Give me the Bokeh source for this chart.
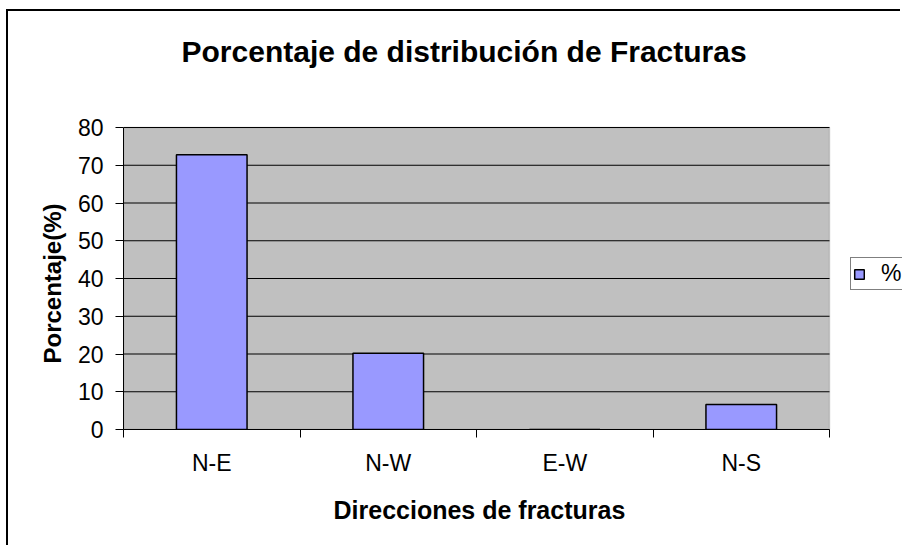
from bokeh.plotting import figure
from bokeh.models import (Range1d, FixedTicker, Legend, LegendItem, ColumnDataSource,
                          BoxAnnotation, Label, Title)
from bokeh.embed import file_html
from bokeh.resources import INLINE

# data
categories = ["N-E", "N-W", "E-W", "N-S"]
percent = [72.8, 20.2, 0.0, 6.6]
y_ticks = [0, 10, 20, 30, 40, 50, 60, 70, 80]
y_max = 80
title_text = "Porcentaje de distribución de Fracturas"
x_label = "Direcciones de fracturas"
y_label = "Porcentaje(%)"
series_name = "%"

FONT = "Liberation Sans"

# layout (pixels, canvas coordinates)
W, H = 894, 536
LEFT, BOTTOM = 115, 118
PLOT_W, PLOT_H = 706, 302         # grey plot area
FRAME_W, FRAME_H = W - LEFT, H - BOTTOM
n = len(categories)
px_x = PLOT_W / n
px_y = PLOT_H / y_max
x_end = FRAME_W / px_x
y_end = FRAME_H / px_y

xs = [i + 0.5 for i in range(n)]
src = ColumnDataSource(dict(x=xs, top=percent, cat=categories))

p = figure(width=W, height=H, output_backend="svg", toolbar_location=None,
           x_range=Range1d(0, x_end), y_range=Range1d(0, y_end),
           min_border_left=LEFT, min_border_right=0, min_border_top=0,
           min_border_bottom=BOTTOM)
p.styles = {"border-left": "2px solid black", "border-top": "2px solid black",
            "margin-left": "6px", "margin-top": "9px"}

p.background_fill_color = "white"
p.border_fill_color = "white"
p.outline_line_color = None
p.title.visible = False

# grey plot area
p.add_layout(BoxAnnotation(left=0, right=n, bottom=0, top=y_max,
                           fill_color="#C0C0C0", fill_alpha=1,
                           line_color="#808080", line_width=1.5, level="underlay"))

# horizontal grid lines limited to the plot area
p.segment(x0=[0] * len(y_ticks), x1=[n] * len(y_ticks), y0=y_ticks, y1=y_ticks,
          line_color="black", line_width=1)

bars = p.vbar(x="x", top="top", bottom=0, width=0.4, source=src,
              fill_color="#9999FF", line_color="black", line_width=1.5)

# main title
p.add_layout(Label(x=58 / px_x, y=(PLOT_H + 76) / px_y, text=title_text,
                   text_font=FONT, text_font_size="30px", text_font_style="bold",
                   text_color="black", text_align="left", text_baseline="alphabetic"))

# x axis
xa = p.xaxis[0]
xa.bounds = (0, n)
xa.ticker = FixedTicker(ticks=xs, minor_ticks=list(range(n + 1)))
xa.major_label_overrides = {x: c for x, c in zip(xs, categories)}
xa.major_tick_line_color = None
xa.minor_tick_out = 8
xa.minor_tick_in = 0
xa.minor_tick_line_color = "black"
xa.axis_line_color = "black"
xa.major_label_text_font = FONT
xa.major_label_text_font_size = "23px"
xa.major_label_text_color = "black"
xa.major_label_standoff = 12

p.add_layout(Title(text=x_label, align="left", offset=210, standoff=30,
                   text_font=FONT, text_font_size="25px", text_font_style="bold",
                   text_color="black"), "below")

# y axis
ya = p.yaxis[0]
ya.bounds = (0, y_max)
ya.ticker = FixedTicker(ticks=y_ticks)
ya.major_tick_out = 8
ya.major_tick_in = 0
ya.minor_tick_line_color = None
ya.axis_line_color = "black"
ya.major_label_text_font = FONT
ya.major_label_text_font_size = "23px"
ya.major_label_text_color = "black"
ya.major_label_standoff = 12

p.add_layout(Title(text=y_label, align="left", offset=66, standoff=17,
                   text_font=FONT, text_font_size="24px", text_font_style="bold",
                   text_color="black"), "left")

p.xgrid.grid_line_color = None
p.ygrid.grid_line_color = None

legend = Legend(items=[LegendItem(label=series_name, renderers=[bars])],
                location=(727, 139), margin=0, padding=2, spacing=0,
                glyph_width=12, glyph_height=12, label_standoff=16,
                label_text_font=FONT, label_text_font_size="23px",
                label_text_color="black",
                border_line_color="black", border_line_width=1,
                background_fill_color="white", background_fill_alpha=1)
p.add_layout(legend)

open("out.html", "w").write(file_html(p, INLINE))
